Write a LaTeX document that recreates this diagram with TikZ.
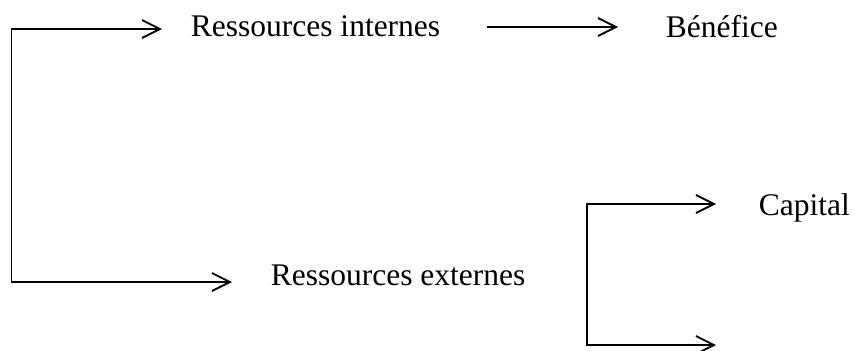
\documentclass[tikz,border=0pt]{standalone}
\usepackage{fontspec}
\setmainfont{Liberation Serif}
\usetikzlibrary{arrows.meta}

\begin{document}
\begin{tikzpicture}[x=1pt,y=-1pt,line width=1.8pt,
	flow/.style={-{Straight Barb[length=18pt,width=18pt]}},
	term/.style={anchor=base west,inner sep=0pt,font=\fontsize{31.5}{36}\selectfont}]
	\useasboundingbox (0,0) rectangle (855,351);

	%texts
	\node[term] (internes) at (190,36) {Ressources internes};
	\node[term] (benefice) at (665,37) {Bénéfice};
	\node[term] (externes) at (270,285) {Ressources externes};
	\node[term] (capital) at (758,215) {Capital};

	%left bracket
	\coordinate (split) at (11.5,150);
	\draw[flow,shorten >=28pt] (split) |- ([yshift=7pt]internes.base west); %to internes
	\draw[flow,shorten >=38pt] (split) |- ([yshift=3pt]externes.base west); %to externes

	%internes to benefice
	\draw[flow,shorten <=46pt,shorten >=47pt] ([yshift=9pt]internes.base east) -- ([yshift=10pt]benefice.base west);

	%right bracket
	\coordinate (fork) at (587,275);
	\coordinate (sortie) at (716,345);
	\draw[flow,shorten >=42pt] (fork) |- ([yshift=11pt]capital.base west); %to capital
	\draw[flow] (fork) |- (sortie); %lower arrow
\end{tikzpicture}
\end{document}
